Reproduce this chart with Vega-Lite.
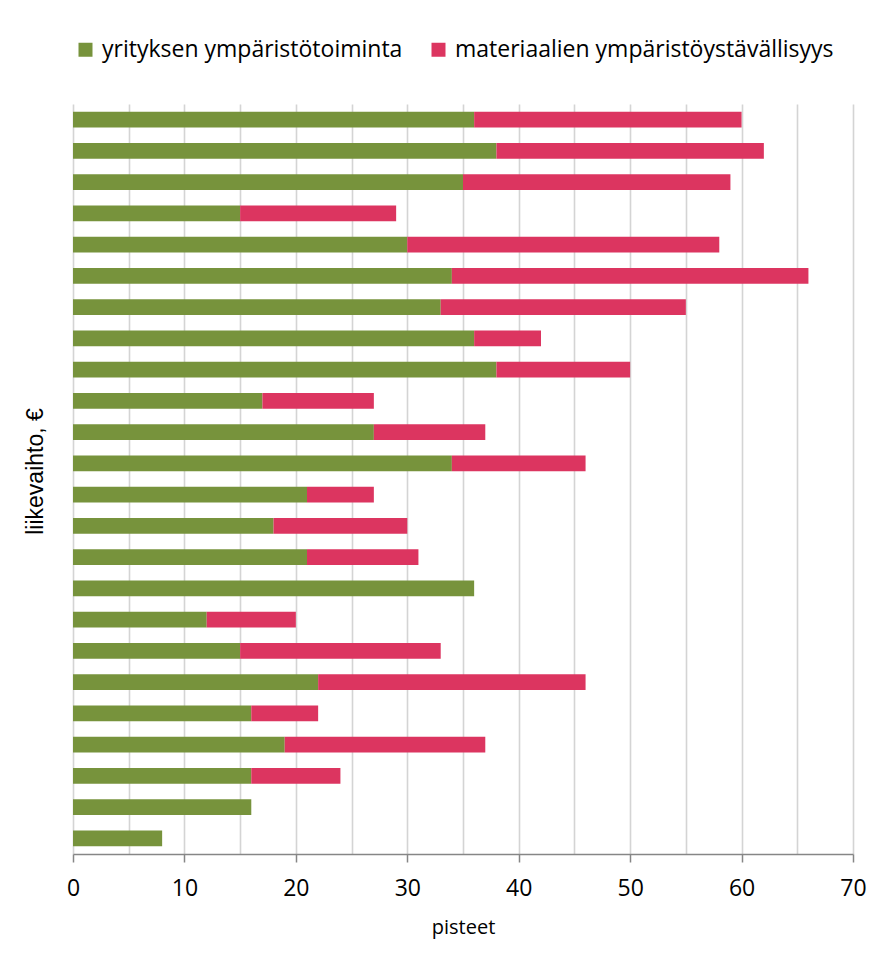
{
  "$schema": "https://vega.github.io/schema/vega-lite/v6.json",
  "autosize": "none",
  "width": 780,
  "height": 750,
  "padding": {"left": 73, "top": 104, "right": 33, "bottom": 111},
  "background": "white",
  "config": {
    "view": {"stroke": null},
    "font": "Open Sans"
  },
  "data": {
    "values": [
      {"rivi": 1, "sarja": "yrityksen ympäristötoiminta", "pisteet": 36},
      {"rivi": 1, "sarja": "materiaalien ympäristöystävällisyys", "pisteet": 24},
      {"rivi": 2, "sarja": "yrityksen ympäristötoiminta", "pisteet": 38},
      {"rivi": 2, "sarja": "materiaalien ympäristöystävällisyys", "pisteet": 24},
      {"rivi": 3, "sarja": "yrityksen ympäristötoiminta", "pisteet": 35},
      {"rivi": 3, "sarja": "materiaalien ympäristöystävällisyys", "pisteet": 24},
      {"rivi": 4, "sarja": "yrityksen ympäristötoiminta", "pisteet": 15},
      {"rivi": 4, "sarja": "materiaalien ympäristöystävällisyys", "pisteet": 14},
      {"rivi": 5, "sarja": "yrityksen ympäristötoiminta", "pisteet": 30},
      {"rivi": 5, "sarja": "materiaalien ympäristöystävällisyys", "pisteet": 28},
      {"rivi": 6, "sarja": "yrityksen ympäristötoiminta", "pisteet": 34},
      {"rivi": 6, "sarja": "materiaalien ympäristöystävällisyys", "pisteet": 32},
      {"rivi": 7, "sarja": "yrityksen ympäristötoiminta", "pisteet": 33},
      {"rivi": 7, "sarja": "materiaalien ympäristöystävällisyys", "pisteet": 22},
      {"rivi": 8, "sarja": "yrityksen ympäristötoiminta", "pisteet": 36},
      {"rivi": 8, "sarja": "materiaalien ympäristöystävällisyys", "pisteet": 6},
      {"rivi": 9, "sarja": "yrityksen ympäristötoiminta", "pisteet": 38},
      {"rivi": 9, "sarja": "materiaalien ympäristöystävällisyys", "pisteet": 12},
      {"rivi": 10, "sarja": "yrityksen ympäristötoiminta", "pisteet": 17},
      {"rivi": 10, "sarja": "materiaalien ympäristöystävällisyys", "pisteet": 10},
      {"rivi": 11, "sarja": "yrityksen ympäristötoiminta", "pisteet": 27},
      {"rivi": 11, "sarja": "materiaalien ympäristöystävällisyys", "pisteet": 10},
      {"rivi": 12, "sarja": "yrityksen ympäristötoiminta", "pisteet": 34},
      {"rivi": 12, "sarja": "materiaalien ympäristöystävällisyys", "pisteet": 12},
      {"rivi": 13, "sarja": "yrityksen ympäristötoiminta", "pisteet": 21},
      {"rivi": 13, "sarja": "materiaalien ympäristöystävällisyys", "pisteet": 6},
      {"rivi": 14, "sarja": "yrityksen ympäristötoiminta", "pisteet": 18},
      {"rivi": 14, "sarja": "materiaalien ympäristöystävällisyys", "pisteet": 12},
      {"rivi": 15, "sarja": "yrityksen ympäristötoiminta", "pisteet": 21},
      {"rivi": 15, "sarja": "materiaalien ympäristöystävällisyys", "pisteet": 10},
      {"rivi": 16, "sarja": "yrityksen ympäristötoiminta", "pisteet": 36},
      {"rivi": 17, "sarja": "yrityksen ympäristötoiminta", "pisteet": 12},
      {"rivi": 17, "sarja": "materiaalien ympäristöystävällisyys", "pisteet": 8},
      {"rivi": 18, "sarja": "yrityksen ympäristötoiminta", "pisteet": 15},
      {"rivi": 18, "sarja": "materiaalien ympäristöystävällisyys", "pisteet": 18},
      {"rivi": 19, "sarja": "yrityksen ympäristötoiminta", "pisteet": 22},
      {"rivi": 19, "sarja": "materiaalien ympäristöystävällisyys", "pisteet": 24},
      {"rivi": 20, "sarja": "yrityksen ympäristötoiminta", "pisteet": 16},
      {"rivi": 20, "sarja": "materiaalien ympäristöystävällisyys", "pisteet": 6},
      {"rivi": 21, "sarja": "yrityksen ympäristötoiminta", "pisteet": 19},
      {"rivi": 21, "sarja": "materiaalien ympäristöystävällisyys", "pisteet": 18},
      {"rivi": 22, "sarja": "yrityksen ympäristötoiminta", "pisteet": 16},
      {"rivi": 22, "sarja": "materiaalien ympäristöystävällisyys", "pisteet": 8},
      {"rivi": 23, "sarja": "yrityksen ympäristötoiminta", "pisteet": 16},
      {"rivi": 24, "sarja": "yrityksen ympäristötoiminta", "pisteet": 8}
    ]
  },
  "mark": {"type": "bar"},
  "encoding": {
    "y": {
      "field": "rivi",
      "type": "ordinal",
      "sort": "ascending",
      "scale": {"paddingInner": 0.5, "paddingOuter": 0.25},
      "axis": {
        "labels": false,
        "ticks": false,
        "domain": false,
        "title": "liikevaihto, €",
        "titleFont": "Liberation Sans",
        "titleFontSize": 23,
        "titleFontWeight": "normal",
        "titleColor": "#000000",
        "titleAngle": 270,
        "titleBaseline": "alphabetic",
        "titleX": -31,
        "titleY": 367
      }
    },
    "x": {
      "field": "pisteet",
      "type": "quantitative",
      "stack": "zero",
      "scale": {"domain": [0, 70], "nice": false},
      "axis": {
        "values": [0, 5, 10, 15, 20, 25, 30, 35, 40, 45, 50, 55, 60, 65, 70],
        "labelExpr": "datum.value % 10 === 0 ? datum.label : ''",
        "tickOpacity": {"condition": {"test": "datum.value % 10 !== 0", "value": 0}, "value": 1},
        "grid": true,
        "gridColor": "#D4D4D4",
        "gridWidth": 1.6,
        "domainColor": "#868686",
        "domainWidth": 1.5,
        "tickColor": "#868686",
        "tickWidth": 1.5,
        "tickSize": 8,
        "labelFont": "Open Sans",
        "labelFontSize": 23,
        "labelColor": "#000000",
        "labelPadding": 15,
        "labelFlush": false,
        "title": "pisteet",
        "titleFont": "Open Sans",
        "titleFontSize": 20,
        "titleFontWeight": "normal",
        "titleColor": "#000000",
        "titlePadding": 17
      }
    },
    "color": {
      "field": "sarja",
      "type": "nominal",
      "scale": {
        "domain": ["yrityksen ympäristötoiminta", "materiaalien ympäristöystävällisyys"],
        "range": ["#77933C", "#DC3560"]
      },
      "legend": {
        "title": null,
        "orient": "none",
        "legendX": 1,
        "legendY": -66,
        "direction": "horizontal",
        "symbolType": "square",
        "symbolSize": 196,
        "symbolStrokeWidth": 0,
        "labelFont": "Open Sans",
        "labelFontSize": 23,
        "labelColor": "#000000",
        "labelOffset": 5,
        "columnPadding": 24,
        "labelLimit": 500,
        "padding": 0
      }
    },
    "order": {"field": "sarja", "sort": "descending"}
  }
}
